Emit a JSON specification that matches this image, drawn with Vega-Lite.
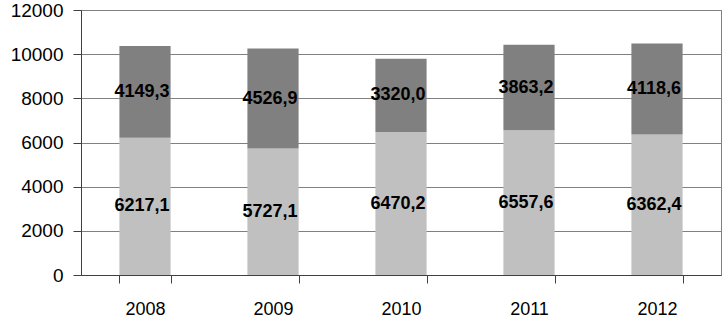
{
  "$schema": "https://vega.github.io/schema/vega-lite/v6.json",
  "autosize": "none",
  "width": 640,
  "height": 265,
  "padding": {"left": 81, "top": 10, "right": 1, "bottom": 43},
  "background": "white",
  "config": {
    "locale": {"number": {"decimal": ",", "thousands": "", "grouping": [3], "currency": ["", ""]}},
    "view": {"stroke": "#808080", "strokeWidth": 1},
    "font": "Liberation Sans",
    "axis": {"labelFont": "Liberation Sans", "labelFontSize": 19, "labelColor": "black", "title": null}
  },
  "data": {
    "values": [
      {"year": "2008", "series": "lower", "value": 6217.1},
      {"year": "2008", "series": "upper", "value": 4149.3},
      {"year": "2009", "series": "lower", "value": 5727.1},
      {"year": "2009", "series": "upper", "value": 4526.9},
      {"year": "2010", "series": "lower", "value": 6470.2},
      {"year": "2010", "series": "upper", "value": 3320.0},
      {"year": "2011", "series": "lower", "value": 6557.6},
      {"year": "2011", "series": "upper", "value": 3863.2},
      {"year": "2012", "series": "lower", "value": 6362.4},
      {"year": "2012", "series": "upper", "value": 4118.6}
    ]
  },
  "transform": [
    {"stack": "value", "groupby": ["year"], "sort": [{"field": "series", "order": "ascending"}], "as": ["v0", "v1"]},
    {"calculate": "(datum.v0 + datum.v1) / 2", "as": "mid"}
  ],
  "encoding": {
    "x": {
      "field": "year", "type": "nominal",
      "scale": {"paddingInner": 0.6, "paddingOuter": 0.3},
      "axis": {"labelAngle": 0, "labelFontSize": 18, "labelBaseline": "alphabetic", "tickBand": "extent", "tickSize": 8, "labelPadding": 31, "domainColor": "#404040", "tickColor": "#404040", "grid": false}
    }
  },
  "layer": [
    {
      "mark": {"type": "bar"},
      "encoding": {
        "y": {
          "field": "v0", "type": "quantitative",
          "scale": {"domain": [0, 12000], "nice": false},
          "axis": {"values": [0, 2000, 4000, 6000, 8000, 10000, 12000], "format": "d", "labelFontSize": 19, "tickSize": 8, "labelPadding": 10, "grid": true, "gridColor": "#808080", "domainColor": "#404040", "tickColor": "#404040"}
        },
        "y2": {"field": "v1"},
        "color": {
          "field": "series", "type": "nominal",
          "scale": {"domain": ["lower", "upper"], "range": ["#c0c0c0", "#808080"]},
          "legend": null
        }
      }
    },
    {
      "mark": {"type": "text", "fontWeight": "bold", "fontSize": 18, "color": "black", "baseline": "middle", "dx": -3},
      "encoding": {
        "y": {"field": "mid", "type": "quantitative"},
        "text": {"field": "value", "type": "quantitative", "format": ".1f"}
      }
    }
  ]
}
